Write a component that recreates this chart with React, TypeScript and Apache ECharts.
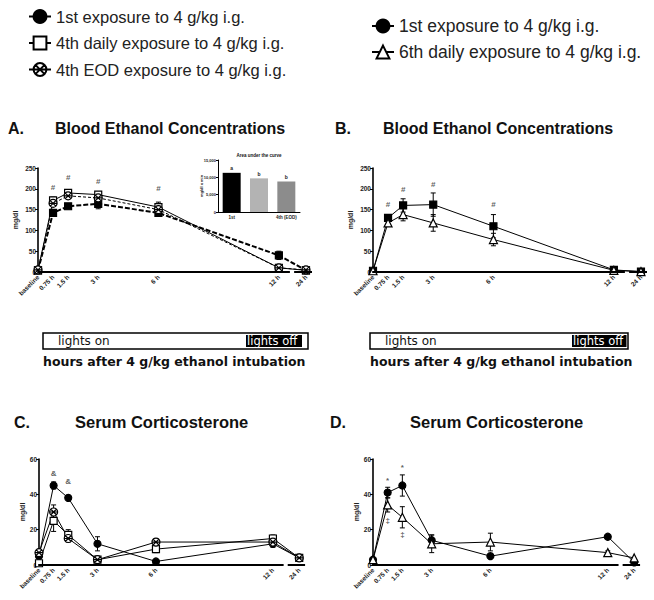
import React, { useEffect, useRef } from 'react';
import * as echarts from 'echarts';

// ---------- data ----------
const timeLabels = ['baseline', '0.75 h', '1.5 h', '3 h', '6 h', '12 h', '24 h'];
const hours = [0, 0.75, 1.5, 3, 6, 12, 24];

const nameFirst = '1st exposure to 4 g/kg i.g.';
const nameDaily4 = '4th daily exposure to 4 g/kg i.g.';
const nameEod4 = '4th EOD exposure to 4 g/kg i.g.';
const nameDaily6 = '6th daily exposure to 4 g/kg i.g.';

// Panel A – blood ethanol (mg/dl)
const becAFirst = [4, 142, 158, 164, 142, 40, 4];
const becAFirstErr = [0, 4, 6, 12, 8, 10, 0];
const becADaily4 = [4, 172, 190, 186, 156, 10, 4];
const becADaily4Err = [0, 8, 6, 6, 12, 3, 0];
const becAEod4 = [5, 165, 183, 178, 150, 10, 5];
const becAEod4Err = [0, 6, 5, 8, 6, 3, 0];
const annotAHours = [0.75, 1.5, 3, 6];
const annotAY = [204, 228, 218, 200];

// Panel A inset – area under the curve
const aucGroups = ['1st', '4th (daily)', '4th (EOD)'];
const aucValues = [11300, 9700, 8800];
const aucLetters = ['a', 'b', 'b'];

// Panel B – blood ethanol (mg/dl)
const becBFirst = [3, 130, 160, 162, 110, 5, 1];
const becBFirstErr = [0, 5, 16, 28, 28, 2, 0];
const becBDaily6 = [3, 118, 138, 118, 78, 4, 1];
const becBDaily6Err = [0, 8, 15, 20, 15, 2, 0];
const annotBHours = [0.75, 1.5, 3, 6];
const annotBY = [162, 198, 210, 162];

// Panel C – serum corticosterone
const corCFirst = [5, 45, 38, 12, 2, 12, 4];
const corCFirstErr = [1, 2, 1, 4, 1, 2, 0];
const corCDaily4 = [1, 25, 17, 3, 9, 15, 4];
const corCDaily4Err = [0, 6, 3, 1, 2, 2, 0];
const corCEod4 = [7, 30, 15, 3, 13, 13, 4];
const corCEod4Err = [1, 4, 2, 1, 2, 2, 0];
const annotCHours = [0.75, 1.5];
const annotCY = [52, 47];

// Panel D – serum corticosterone
const corDFirst = [3, 41, 45, 14, 5, 16, 1.5];
const corDFirstErr = [0, 3, 6, 3, 1, 1, 0];
const corDDaily6 = [3, 34, 27, 12, 13, 7, 4];
const corDDaily6Err = [0, 4, 6, 5, 5, 1, 0];
const annotDStarHours = [0.75, 1.5];
const annotDStarY = [48, 55];
const annotDDaggerHours = [0.75, 1.5];
const annotDDaggerY = [25, 17];

// broken x axis: segments (axis units)
const axisSegStart = [0, 12.8];
const axisSegEnd = [12.55, 13.65];

// ---------- helpers ----------
const FONT = '"Liberation Sans", Arial, sans-serif';
const VFONT = '"DejaVu Sans", Verdana, sans-serif';
const X_MAX = 13.8;
const BREAK_POS = 13.35; // position of 24 h on the broken axis
const xPos = (h: number) => (h > 12 ? BREAK_POS : h);
const tickPos = hours.map(xPos);

const GRIDS = [
  { left: 38, top: 168, width: 277, height: 104 },
  { left: 373, top: 168, width: 277, height: 104 },
  { left: 39, top: 459, width: 269, height: 106 },
  { left: 373, top: 459, width: 270, height: 106 },
];

const CROSS_CIRCLE =
  'path://M0,5 A5,5 0 1,1 10,5 A5,5 0 1,1 0,5 Z M1.6,1.6 L8.4,8.4 M8.4,1.6 L1.6,8.4 M0,5 L10,5';

function xAxisFor(gridIndex: number) {
  return {
    type: 'value',
    gridIndex,
    min: 0,
    max: X_MAX,
    axisLine: { show: false },
    axisTick: { show: false },
    splitLine: { show: false },
    axisLabel: {
      customValues: tickPos,
      formatter: (v: number) => {
        const i = tickPos.findIndex((p) => Math.abs(p - v) < 1e-6);
        return i >= 0 ? timeLabels[i] : '';
      },
      rotate: 45,
      fontSize: 6.5,
      fontWeight: 'bold',
      fontFamily: FONT,
      color: '#222',
      margin: 4,
    },
  };
}

function yAxisFor(gridIndex: number, max: number, interval: number) {
  return {
    type: 'value',
    gridIndex,
    min: 0,
    max,
    interval,
    axisLine: { show: true, lineStyle: { color: '#000', width: 1.6 } },
    axisTick: { show: true, length: 3, lineStyle: { color: '#000', width: 1 } },
    axisLabel: { fontSize: 6.5, fontWeight: 'bold', fontFamily: FONT, color: '#222', margin: 2 },
    splitLine: { show: false },
  };
}

function lineSeries(
  name: string,
  axis: number,
  values: number[],
  symbol: string,
  fill: string,
  lineStyle: any,
  size = 7
) {
  return {
    type: 'line',
    name,
    xAxisIndex: axis,
    yAxisIndex: axis,
    data: hours.map((h, i) => [xPos(h), values[i]]),
    symbol,
    symbolSize: size,
    showSymbol: true,
    clip: false,
    z: 3,
    itemStyle: { color: fill, borderColor: '#000', borderWidth: 1.2 },
    lineStyle: { color: '#000', width: 1, ...lineStyle },
  };
}

function errSeries(axis: number, values: number[], errs: number[]) {
  return {
    type: 'custom',
    xAxisIndex: axis,
    yAxisIndex: axis,
    silent: true,
    z: 2,
    encode: { x: 0, y: [1, 2] },
    data: hours
      .map((h, i) => [xPos(h), values[i] - errs[i], values[i] + errs[i], errs[i]])
      .filter((d) => d[3] > 0),
    renderItem: (params: any, api: any) => {
      const x = api.value(0);
      const lo = api.value(1);
      const hi = api.value(2);
      const p1 = api.coord([x, hi]);
      const p2 = api.coord([x, lo]);
      const w = 2.5;
      const st = { stroke: '#000', lineWidth: 1 };
      return {
        type: 'group',
        children: [
          { type: 'line', shape: { x1: p1[0], y1: p1[1], x2: p2[0], y2: p2[1] }, style: st },
          { type: 'line', shape: { x1: p1[0] - w, y1: p1[1], x2: p1[0] + w, y2: p1[1] }, style: st },
          { type: 'line', shape: { x1: p2[0] - w, y1: p2[1], x2: p2[0] + w, y2: p2[1] }, style: st },
        ],
      };
    },
  };
}

function annotSeries(axis: number, hs: number[], ys: number[], text: string, fontSize = 9) {
  return {
    type: 'scatter',
    xAxisIndex: axis,
    yAxisIndex: axis,
    silent: true,
    z: 4,
    symbolSize: 1,
    itemStyle: { color: 'rgba(0,0,0,0)' },
    data: hs.map((h, i) => [xPos(h), ys[i]]),
    label: {
      show: true,
      position: 'inside',
      formatter: () => text,
      fontSize,
      fontWeight: 'bold',
      fontFamily: FONT,
      color: '#333',
    },
  };
}

function txt(x: number, y: number, text: string, font: string, extra: any = {}) {
  return {
    type: 'text',
    x,
    y,
    silent: true,
    style: { text, font, fill: '#111', align: 'left', verticalAlign: 'middle', ...extra },
  };
}

function vtxt(x: number, y: number, text: string, font: string) {
  return {
    type: 'text',
    x,
    y,
    rotation: Math.PI / 2,
    silent: true,
    style: { text, font, fill: '#222', align: 'center', verticalAlign: 'middle' },
  };
}

// axis-line bars (filled rects) along the bottom of each grid, following the x scale
function axisBars() {
  const out: any[] = [];
  GRIDS.forEach((g) => {
    const y = g.top + g.height;
    axisSegStart.forEach((s, i) => {
      const x1 = g.left + (s / X_MAX) * g.width;
      const x2 = g.left + (axisSegEnd[i] / X_MAX) * g.width;
      out.push({
        type: 'rect',
        silent: true,
        z: 10,
        shape: { x: x1 - 0.8, y: y - 1, width: x2 - x1 + 0.8, height: 2 },
        style: { fill: '#000' },
      });
    });
  });
  return out;
}

const aucColors = ['#000000', '#b3b3b3', '#8c8c8c'];

export default function App() {
  const ref = useRef<HTMLDivElement>(null);
  useEffect(() => {
    if (!ref.current) return;
    const chart = echarts.init(ref.current, null, { renderer: 'svg' });

    const graphic: any[] = [
      txt(8, 128, 'A.', `bold 16px ${FONT}`),
      txt(55, 128, 'Blood Ethanol Concentrations', `bold 16px ${FONT}`),
      txt(335, 128, 'B.', `bold 16px ${FONT}`),
      txt(383, 128, 'Blood Ethanol Concentrations', `bold 16px ${FONT}`),
      txt(14, 422, 'C.', `bold 16px ${FONT}`),
      txt(75, 422, 'Serum Corticosterone', `bold 16.5px ${FONT}`),
      txt(330, 422, 'D.', `bold 16px ${FONT}`),
      txt(410, 422, 'Serum Corticosterone', `bold 16.5px ${FONT}`),
      vtxt(15, 220, 'mg/dl', `bold 7px ${FONT}`),
      vtxt(350, 220, 'mg/dl', `bold 7px ${FONT}`),
      vtxt(22, 512, 'mg/dl', `bold 7px ${FONT}`),
      vtxt(356, 512, 'mg/dl', `bold 7px ${FONT}`),
      vtxt(201, 186, 'mg/dl x min', `bold 4px ${FONT}`),
      txt(259, 155, 'Area under the curve', `bold 4.5px ${FONT}`, { align: 'center' }),
      // lights box A
      { type: 'rect', shape: { x: 43, y: 333, width: 265, height: 16 }, style: { fill: '#fff', stroke: '#000', lineWidth: 1.5 }, silent: true },
      { type: 'rect', shape: { x: 246, y: 335, width: 56, height: 12 }, style: { fill: '#000' }, silent: true },
      txt(58, 341, 'lights on', `12px ${VFONT}`),
      txt(247, 341, 'lights off', `11.5px ${VFONT}`, { fill: '#fff' }),
      txt(43, 361, 'hours after 4 g/kg ethanol intubation', `bold 12.5px ${VFONT}`),
      // lights box B
      { type: 'rect', shape: { x: 370, y: 333, width: 258, height: 16 }, style: { fill: '#fff', stroke: '#000', lineWidth: 1.5 }, silent: true },
      { type: 'rect', shape: { x: 572, y: 335, width: 54.5, height: 12 }, style: { fill: '#000' }, silent: true },
      txt(385, 341, 'lights on', `12px ${VFONT}`),
      txt(573, 341, 'lights off', `11.5px ${VFONT}`, { fill: '#fff' }),
      txt(370, 361, 'hours after 4 g/kg ethanol intubation', `bold 12.5px ${VFONT}`),
      ...axisBars(),
    ];

    const option: any = {
      animation: false,
      backgroundColor: '#fff',
      legend: [
        {
          orient: 'vertical',
          left: 23,
          top: 3,
          padding: 5,
          itemWidth: 22,
          itemHeight: 16,
          itemGap: 9.5,
          selectedMode: false,
          data: [nameFirst, nameDaily4, nameEod4],
          textStyle: { fontSize: 16.5, fontFamily: FONT, color: '#222' },
          lineStyle: { width: 2 },
        },
        {
          orient: 'vertical',
          left: 366,
          top: 12,
          padding: 5,
          itemWidth: 22,
          itemHeight: 16,
          itemGap: 8,
          selectedMode: false,
          data: [nameFirst, nameDaily6],
          textStyle: { fontSize: 17.5, fontFamily: FONT, color: '#222' },
          lineStyle: { width: 2 },
        },
      ],
      grid: [
        ...GRIDS.map((g) => ({ ...g, outerBoundsMode: 'none' })),
        { left: 218, top: 160, width: 82, height: 52, outerBoundsMode: 'none' },
      ],
      xAxis: [
        xAxisFor(0),
        xAxisFor(1),
        xAxisFor(2),
        xAxisFor(3),
        {
          type: 'category',
          gridIndex: 4,
          data: aucGroups,
          axisLine: { lineStyle: { color: '#000', width: 1 } },
          axisTick: { show: false },
          axisLabel: { fontSize: 4.5, fontWeight: 'bold', fontFamily: FONT, color: '#222', margin: 3 },
        },
      ],
      yAxis: [
        yAxisFor(0, 250, 50),
        yAxisFor(1, 250, 50),
        yAxisFor(2, 60, 20),
        yAxisFor(3, 60, 20),
        {
          type: 'value',
          gridIndex: 4,
          min: 0,
          max: 15000,
          interval: 5000,
          axisLine: { show: true, lineStyle: { color: '#000', width: 1 } },
          axisTick: { show: true, length: 2, lineStyle: { color: '#000' } },
          axisLabel: { fontSize: 4, fontWeight: 'bold', fontFamily: FONT, color: '#222', margin: 2 },
          splitLine: { show: false },
        },
      ],
      series: [
        // Panel C (first so legend uses round markers)
        lineSeries(nameFirst, 2, corCFirst, 'circle', '#000', {}, 7),
        lineSeries(nameDaily4, 2, corCDaily4, 'rect', '#fff', {}, 7),
        lineSeries(nameEod4, 2, corCEod4, CROSS_CIRCLE, '#fff', {}, 8),
        errSeries(2, corCFirst, corCFirstErr),
        errSeries(2, corCDaily4, corCDaily4Err),
        errSeries(2, corCEod4, corCEod4Err),
        annotSeries(2, annotCHours, annotCY, '&', 8),
        // Panel D
        lineSeries(nameFirst, 3, corDFirst, 'circle', '#000', {}, 7),
        lineSeries(nameDaily6, 3, corDDaily6, 'triangle', '#fff', {}, 8),
        errSeries(3, corDFirst, corDFirstErr),
        errSeries(3, corDDaily6, corDDaily6Err),
        annotSeries(3, annotDStarHours, annotDStarY, '*', 8),
        annotSeries(3, annotDDaggerHours, annotDDaggerY, '‡', 8),
        // Panel A
        lineSeries(nameFirst, 0, becAFirst, 'rect', '#000', { width: 2, type: [5, 2] }, 7),
        lineSeries(nameDaily4, 0, becADaily4, 'rect', '#fff', {}, 7),
        lineSeries(nameEod4, 0, becAEod4, CROSS_CIRCLE, '#fff', { type: [3, 2] }, 8),
        errSeries(0, becAFirst, becAFirstErr),
        errSeries(0, becADaily4, becADaily4Err),
        errSeries(0, becAEod4, becAEod4Err),
        annotSeries(0, annotAHours, annotAY, '#', 8),
        // Panel B
        lineSeries(nameFirst, 1, becBFirst, 'rect', '#000', {}, 7),
        lineSeries(nameDaily6, 1, becBDaily6, 'triangle', '#fff', {}, 8),
        errSeries(1, becBFirst, becBFirstErr),
        errSeries(1, becBDaily6, becBDaily6Err),
        annotSeries(1, annotBHours, annotBY, '#', 8),
        // Inset AUC bars
        {
          type: 'bar',
          name: 'Area under the curve',
          xAxisIndex: 4,
          yAxisIndex: 4,
          barWidth: 18,
          data: aucValues.map((v, i) => ({ value: v, itemStyle: { color: aucColors[i] } })),
          label: {
            show: true,
            position: 'top',
            distance: 2,
            formatter: (p: any) => aucLetters[p.dataIndex],
            fontSize: 5,
            fontWeight: 'bold',
            fontFamily: FONT,
            color: '#222',
          },
        },
      ],
      graphic,
    };

    chart.setOption(option);
    return () => chart.dispose();
  }, []);

  return (
    <div
      ref={ref}
      style={{ position: 'absolute', left: 0, top: 0, width: 654, height: 600, background: '#fff' }}
    />
  );
}
